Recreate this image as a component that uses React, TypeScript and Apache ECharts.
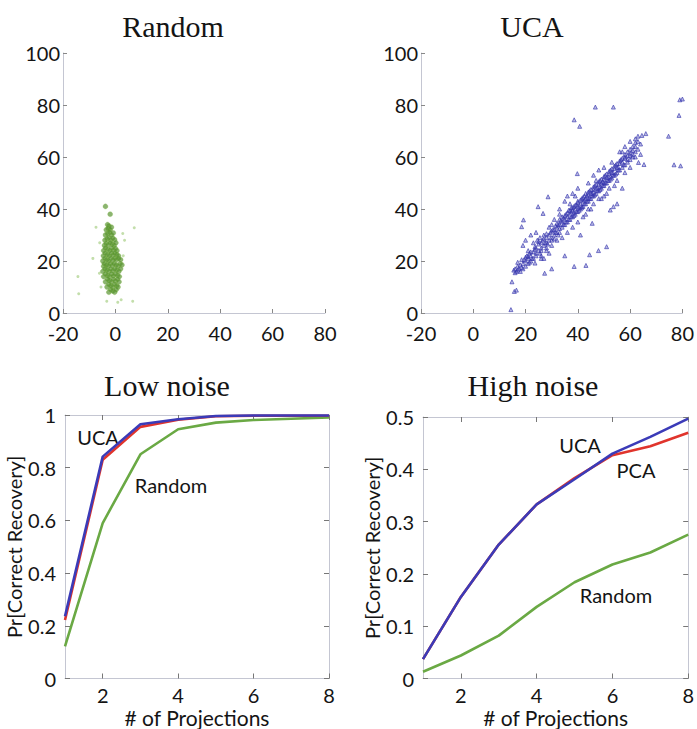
import React, { useEffect, useRef } from "react";
import * as echarts from "echarts";

// ---------- Data ----------
const projections = [1, 2, 3, 4, 5, 6, 7, 8];
const lowUCA = [0.236, 0.842, 0.965, 0.984, 0.996, 0.998, 0.998, 0.998];
const lowPCA = [0.222, 0.83, 0.955, 0.982, 0.995, 0.997, 0.997, 0.997];
const lowRandom = [0.122, 0.59, 0.851, 0.946, 0.971, 0.981, 0.986, 0.991];
const highUCA = [0.037, 0.156, 0.256, 0.333, 0.381, 0.43, 0.462, 0.497];
const highPCA = [0.037, 0.156, 0.256, 0.333, 0.383, 0.427, 0.444, 0.47];
const highRandom = [0.013, 0.044, 0.082, 0.137, 0.184, 0.218, 0.241, 0.275];

const scatterXTicks = [-20, 0, 20, 40, 60, 80];
const scatterYTicks = [0, 20, 40, 60, 80, 100];
const projTicks = [2, 4, 6, 8];

const randomCore: number[][] = [
  [-3, 34], [-2.5, 33.5],
  [-3.5, 32], [-2.8, 32.5], [-2, 32], [-1.5, 33],
  [-3.8, 30], [-3, 30.5], [-2.2, 31], [-1.5, 30], [-0.8, 30.8],
  [-4, 28], [-3.2, 28.5], [-2.5, 29], [-1.8, 28], [-1, 28.8], [-0.3, 28.2],
  [-4.2, 26], [-3.5, 26.8], [-2.8, 26.2], [-2, 27], [-1.2, 26.5], [-0.5, 26], [0.2, 27],
  [-4.5, 24], [-3.8, 25], [-3, 24.5], [-2.2, 24], [-1.5, 25], [-0.8, 24.2], [0, 24.8], [0.6, 24],
  [-4.6, 22], [-3.9, 23], [-3.1, 22.5], [-2.4, 22], [-1.6, 23], [-0.9, 22.2], [-0.2, 23], [0.5, 22.5], [1.2, 22],
  [-4.8, 20], [-4, 21], [-3.3, 20.5], [-2.6, 20], [-1.8, 21], [-1, 20.3], [-0.3, 21], [0.4, 20.5], [1.2, 21], [2, 20.5],
  [-4.5, 18], [-4.2, 19], [-3.4, 18.5], [-2.7, 18], [-2, 19], [-1.2, 18.3], [-0.5, 19], [0.3, 18.5], [1, 18], [1.8, 19], [2.5, 18.5],
  [-4.8, 16], [-4, 17], [-3.3, 16.5], [-2.5, 16], [-1.8, 17], [-1, 16.3], [-0.3, 17], [0.5, 16.5], [1.3, 16], [2, 17],
  [-4.5, 14], [-3.8, 15], [-3, 14.5], [-2.3, 14], [-1.5, 15], [-0.8, 14.3], [0, 15], [0.8, 14.5], [1.5, 14],
  [-3.8, 12], [-3, 13], [-2.3, 12.5], [-1.5, 12], [-0.8, 13], [0, 12.3], [0.8, 13], [1.4, 12],
  [-3.2, 10], [-2.5, 11], [-1.8, 10.5], [-1, 10], [-0.3, 11], [0.5, 10.5], [1, 10],
  [-2.5, 8], [-1.8, 9], [-1, 8.5], [-0.3, 8], [0.3, 9],
  [-3.8, 41], [-2, 38],
];

const randomOutliers: number[][] = [
  [-7.4, 33], [2.8, 30.6], [7.2, 32.8], [-8.6, 21], [-6.1, 15.3], [-14.3, 14], [-14, 7.4],
  [0.9, 4.1], [2.2, 5.1], [6.6, 4.5], [-3.3, 4.5], [-6, 27], [3, 22], [-5.5, 10], [3.5, 28],
];

const ucaPoints: number[][] = [
  [16, 17], [17, 18], [16.5, 16], [17.5, 17], [18, 18.5], [18.5, 17.5], [15.5, 16.5], [16, 15.5], [17, 16.5],
  [19, 19], [20, 20], [20, 18], [21, 21], [21.5, 19.5], [22, 22], [22, 20], [23, 21], [23, 23.5], [24, 22],
  [24, 25], [25, 24], [25, 26.5], [25.5, 23], [26, 27], [26, 25], [27, 26], [27, 28.5], [28, 27], [28, 29],
  [29, 30], [29, 28], [30, 29], [30, 31.5], [31, 30], [31, 32], [32, 33], [32, 31], [33, 34], [33, 32.5],
  [34, 35], [34, 33], [35, 36], [35, 34], [35.5, 38], [36, 35], [36, 37], [37, 38], [37, 36], [37.5, 39],
  [38, 37], [38, 39.5], [38.5, 41], [39, 38], [39, 40], [40, 39], [40, 41], [40, 42.5], [41, 40], [41, 42],
  [41.5, 44], [42, 41], [42, 43], [42.5, 45], [43, 42], [43, 44], [44, 43], [44, 45.5], [44.5, 47], [45, 44],
  [45, 46], [46, 45], [46, 47.5], [46.5, 49], [47, 46], [47, 48], [48, 47], [48, 49.5], [48.5, 51], [49, 48],
  [49, 50], [50, 49], [50, 51.5], [50.5, 53], [51, 50], [51, 52], [52, 51], [52, 53.5], [52.5, 55], [53, 52],
  [53, 54], [54, 53], [54, 55.5], [54.5, 57], [55, 54], [55, 56], [56, 55], [56, 57.5], [56.5, 59], [57, 56],
  [57, 58], [58, 57], [58, 59.5], [59, 58], [59, 60.5], [60, 59], [60, 61.5], [61, 60], [61, 62.5], [62, 62],
  [62, 64], [63, 63], [64, 65],
  [36.5, 39.5], [37.5, 40.5], [38.5, 38.5], [39.5, 41.5], [40.5, 40.5], [41.5, 41], [42.5, 43.5], [43.5, 45],
  [44, 44], [45.5, 45], [46, 46.5], [47.5, 47], [48.5, 48.5], [49.5, 50.5], [50, 50], [51.5, 51], [52.5, 52.5],
  [53.5, 53], [55.5, 55], [57.5, 57], [34.5, 36.5], [33.5, 35.5], [32.5, 34], [31.5, 33.5],
  [33, 36], [34, 37], [34.5, 34], [35, 37.5], [35.5, 35], [36, 38.5], [36.5, 36], [37, 39.5], [37.5, 37],
  [38, 40.5], [38.5, 37.5], [39, 41.5], [39.5, 39], [40, 43], [40.5, 39.5], [41, 43.5], [41.5, 40.5], [42, 44.5],
  [42.5, 42], [43, 46], [43.5, 43], [44, 46.5], [44.5, 44], [45, 47.5], [45.5, 46], [46, 48.5], [46.5, 45.5],
  [47, 49.5], [47.5, 48], [48, 50.5], [48.5, 47.5], [49, 51.5], [49.5, 49], [50, 52.5], [50.5, 50], [51, 53.5],
  [51.5, 52], [52, 54.5], [52.5, 51.5], [53, 55.5], [53.5, 54], [54, 56.5], [54.5, 53.5], [55, 57.5], [55.5, 56],
  [56, 58.5], [57, 59.5], [58, 61], [59, 62], [60, 63], [61, 64], [62, 65.5], [63, 66], [58, 60], [59, 59],
  [60, 60.5], [61, 61],
  [19.5, 20.5], [20.5, 22], [21, 19], [22, 23.5], [22.5, 21], [23.5, 24.5], [24, 23], [25, 27.5], [26, 24],
  [26.5, 28], [27.5, 27], [28, 30.5], [28.5, 26.5], [29.5, 31], [30, 28], [30.5, 32], [31.5, 31], [32, 34.5],
  [32.5, 30], [33, 31], [18, 16], [19, 17], [20, 21.5], [17, 19.5], [18.5, 20.5], [21.5, 23], [24.5, 28],
  [25.5, 29], [27, 30], [29, 33], [30, 34], [31, 28.5], [28, 25], [26, 21],
  [35, 43], [36, 45], [33, 40], [42, 37], [44, 40], [46, 42], [48, 44], [50, 45], [52, 48], [54, 49], [50, 56],
  [48, 55], [44, 50], [46, 53], [56, 62], [58, 64], [60, 66], [62, 67], [66, 69], [63, 68], [40, 48], [38, 46],
  [19, 26], [20, 28], [21, 24], [22, 30], [23, 27], [24, 31], [26, 22], [27, 21], [28, 24], [29, 23], [30, 26],
  [31, 36], [32, 28], [33, 38], [34, 29], [36, 31], [37, 42], [38, 33], [39, 45], [40, 35], [43, 38], [45, 40],
  [47, 51], [49, 44], [51, 46], [53, 58], [55, 51], [57, 62], [58, 54], [60, 56], [62, 60], [64, 61],
  [14.4, 1.3], [15.7, 8.3], [16.5, 8.8], [14.8, 12], [79, 82], [80, 82.3], [78.7, 76], [74.7, 68], [76.8, 57],
  [79.3, 56.6], [38.6, 74.3], [40.7, 71.8], [46.7, 79.2], [53.6, 79.2], [63.2, 57.9], [65.3, 57.1], [64.5, 68.3],
  [27.3, 15.3], [38.6, 17.9], [43.1, 18.3], [44.5, 22.4], [47.9, 24], [51, 25.5], [21, 21.7], [23.6, 19.2],
  [52.4, 39.6], [53.6, 40.9], [45.5, 34.5], [19.2, 35.8], [18.5, 33.2], [24.8, 40.9], [26.7, 38.3],
  [28.6, 44.7], [23.6, 25.5], [39.8, 53.6], [30, 17], [35, 22], [41, 30], [57, 48], [55, 42],
];

// ---------- Styles ----------
const labelFont = "Lato, 'Open Sans', sans-serif";
const titleFont = "'Liberation Serif', 'DejaVu Serif', serif";
const axisGray = "#c4c6d2";
const textDark = "#141414";

function pairs(ys: number[]) {
  return projections.map((x, i) => [x, ys[i]]);
}

export default function App() {
  const ref = useRef<HTMLDivElement>(null);

  useEffect(() => {
    document.body.style.margin = "0";
    if (!ref.current) return;
    const chart = echarts.init(ref.current, null, { renderer: "svg" });

    const tickLabel = { color: textDark, fontFamily: labelFont, fontSize: 20, lineHeight: 17 };

    const scatterX = (gridIndex: number) => ({
      type: "value",
      gridIndex,
      min: -20,
      max: 80,
      interval: 20,
      axisLine: { show: true, onZero: false, lineStyle: { color: axisGray, width: 1 } },
      axisTick: { show: true, inside: true, length: 4, lineStyle: { color: "#888" }, customValues: scatterXTicks },
      axisLabel: { ...tickLabel, margin: 11, customValues: scatterXTicks },
      splitLine: { show: false },
    });
    const scatterY = (gridIndex: number) => ({
      type: "value",
      gridIndex,
      min: 0,
      max: 100,
      interval: 20,
      axisLine: { show: true, onZero: false, lineStyle: { color: axisGray, width: 1 } },
      axisTick: { show: true, inside: true, length: 4, lineStyle: { color: "#888" }, customValues: scatterYTicks },
      axisLabel: { ...tickLabel, lineHeight: 15, margin: 3, customValues: scatterYTicks },
      splitLine: { show: false },
    });

    const projX = (gridIndex: number, top = false) => ({
      type: "value",
      gridIndex,
      min: 1,
      max: 8,
      position: top ? "top" : "bottom",
      axisLine: { show: true, onZero: false, lineStyle: { color: axisGray, width: 1 } },
      axisTick: { show: true, inside: true, length: 5, lineStyle: { color: "#777" }, customValues: projTicks },
      axisLabel: top ? { show: false } : { ...tickLabel, margin: 8, customValues: projTicks },
      splitLine: { show: false },
      name: top ? "" : "# of Projections",
      nameLocation: "middle",
      nameGap: 30,
      nameTextStyle: { color: textDark, fontFamily: labelFont, fontSize: 21, lineHeight: 18, verticalAlign: "top" },
    });
    const probY = (gridIndex: number, max: number, interval: number, right = false) => ({
      type: "value",
      gridIndex,
      min: 0,
      max,
      interval,
      position: right ? "right" : "left",
      axisLine: { show: true, onZero: false, lineStyle: { color: axisGray, width: 1 } },
      axisTick: { show: true, inside: true, length: 5, lineStyle: { color: "#777" } },
      axisLabel: right ? { show: false } : { ...tickLabel, margin: 9 },
      splitLine: { show: false },
      name: right ? "" : "Pr[Correct Recovery]",
      nameLocation: "middle",
      nameGap: 38,
      nameTextStyle: { color: textDark, fontFamily: labelFont, fontSize: 20 },
    });

    const line = (name: string, xi: number, yi: number, data: number[][], color: string, z: number) => ({
      name,
      type: "line",
      xAxisIndex: xi,
      yAxisIndex: yi,
      data,
      showSymbol: false,
      symbol: "none",
      z,
      lineStyle: { color, width: 2.6 },
    });

    const inText = (text: string, x: number, y: number) => ({
      type: "text",
      x,
      y,
      style: {
        text,
        fill: textDark,
        font: `20px ${labelFont}`,
        textAlign: "center",
        textVerticalAlign: "middle",
      },
    });

    const title = (text: string, x: number, y: number) => ({
      text,
      left: x,
      top: y,
      textAlign: "center",
      textStyle: { fontFamily: titleFont, fontSize: 30, fontWeight: "normal", color: textDark },
    });

    chart.setOption({
      animation: false,
      backgroundColor: "#ffffff",
      title: [
        title("Random", 168, 6),
        title("UCA", 527, 6),
        title("Low noise", 162, 365),
        title("High noise", 528, 365),
      ],
      grid: [
        { left: 63, top: 53, width: 262, height: 260 },
        { left: 421, top: 53, width: 265, height: 260 },
        { left: 65, top: 415, width: 264, height: 264 },
        { left: 423, top: 417, width: 267, height: 262 },
      ],
      xAxis: [scatterX(0), scatterX(1), projX(2), projX(3), projX(2, true), projX(3, true)],
      yAxis: [
        scatterY(0),
        scatterY(1),
        probY(2, 1, 0.2),
        probY(3, 0.5, 0.1),
        probY(2, 1, 0.2, true),
        probY(3, 0.5, 0.1, true),
      ],
      series: [
        {
          name: "Random outliers",
          type: "scatter",
          xAxisIndex: 0,
          yAxisIndex: 0,
          data: randomOutliers,
          symbol: "circle",
          symbolSize: 3,
          itemStyle: { color: "rgba(130,185,80,0.6)" },
        },
        {
          name: "Random",
          type: "scatter",
          xAxisIndex: 0,
          yAxisIndex: 0,
          data: randomCore,
          symbol: "circle",
          symbolSize: 5,
          itemStyle: { color: "rgba(84,144,44,0.85)", borderColor: "rgba(130,185,70,0.6)", borderWidth: 0.6 },
        },
        {
          name: "UCA",
          type: "scatter",
          xAxisIndex: 1,
          yAxisIndex: 1,
          data: ucaPoints,
          symbol: "triangle",
          symbolSize: 4,
          itemStyle: { color: "rgba(60,60,180,0.45)", borderColor: "#3636ad", borderWidth: 0.8 },
        },
        line("Random", 2, 2, pairs(lowRandom), "#6aa944", 3),
        line("PCA", 2, 2, pairs(lowPCA), "#e0342c", 4),
        line("UCA", 2, 2, pairs(lowUCA), "#3b3bb8", 5),
        line("Random", 3, 3, pairs(highRandom), "#6aa944", 3),
        line("PCA", 3, 3, pairs(highPCA), "#e0342c", 4),
        line("UCA", 3, 3, pairs(highUCA), "#3b3bb8", 5),
      ],
      graphic: [
        inText("UCA", 98, 437),
        inText("Random", 171, 485),
        inText("UCA", 580, 445),
        inText("PCA", 636, 470),
        inText("Random", 616, 595),
      ],
    });

    return () => chart.dispose();
  }, []);

  return <div ref={ref} style={{ width: 697, height: 729 }} />;
}
